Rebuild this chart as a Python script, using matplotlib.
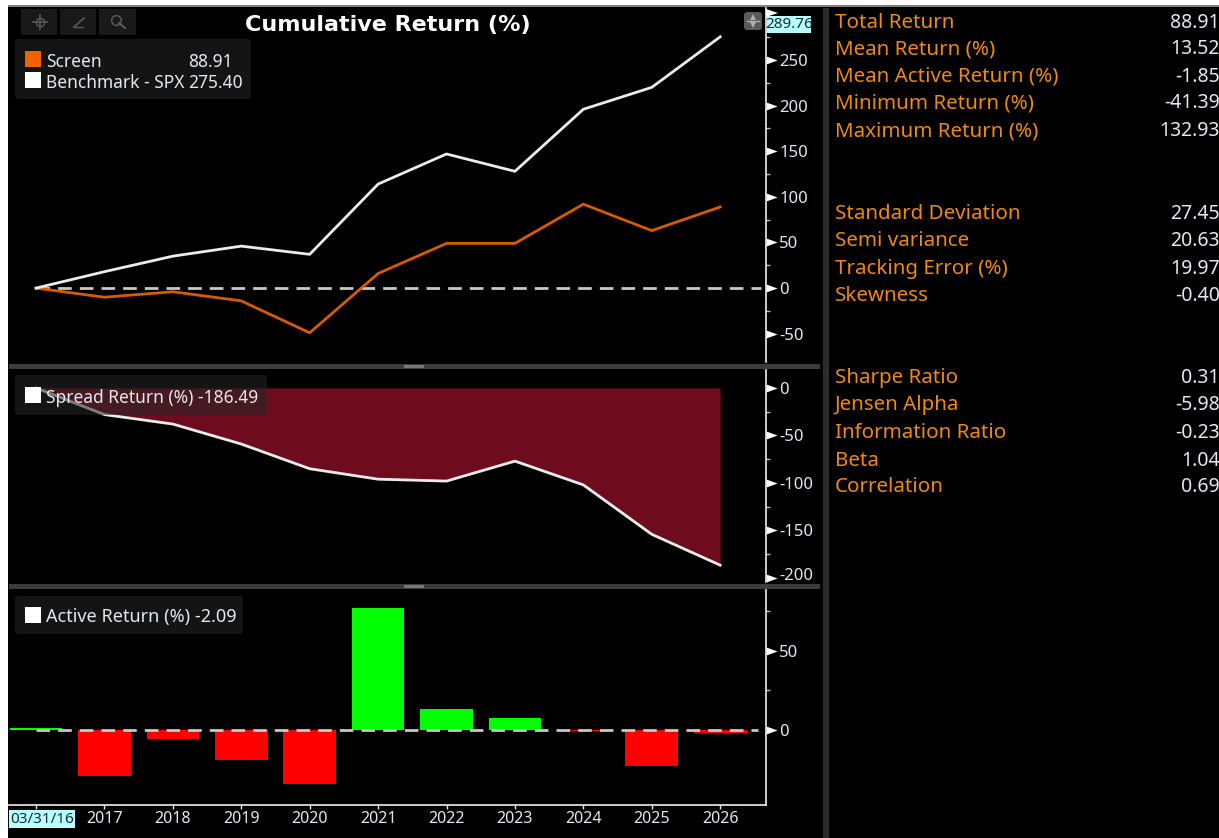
import matplotlib
matplotlib.use("Agg")
import matplotlib.pyplot as plt
from matplotlib.patches import Rectangle, FancyBboxPatch, Polygon
from matplotlib.path import Path
from matplotlib.transforms import ScaledTranslation

plt.rcParams['font.family'] = ['Noto Sans', 'DejaVu Sans']
plt.rcParams['axes.unicode_minus'] = False

# %% Data
periods = [0, 1, 2, 3, 4, 5, 6, 7, 8, 9, 10]
year_labels = ['2017', '2018', '2019', '2020', '2021', '2022', '2023', '2024', '2025', '2026']
screen = [0, -10, -4, -14, -49, 16, 49, 49, 92, 63, 88.91]
benchmark = [0, 18, 35, 46, 37, 114, 147, 128, 196, 220, 275.40]
spread = [0, -28, -38, -59, -85, -96, -98, -77, -102, -154, -186.49]
active = [1.2, -29, -6, -19, -34, 77, 13.5, 7.5, -0.5, -22.5, -2.09]

stat_names = ['Total Return', 'Mean Return (%)', 'Mean Active Return (%)', 'Minimum Return (%)', 'Maximum Return (%)',
              'Standard Deviation', 'Semi variance', 'Tracking Error (%)', 'Skewness',
              'Sharpe Ratio', 'Jensen Alpha', 'Information Ratio', 'Beta', 'Correlation']
stat_values = ['88.91', '13.52', '-1.85', '-41.39', '132.93',
               '27.45', '20.63', '19.97', '-0.40',
               '0.31', '-5.98', '-0.23', '1.04', '0.69']
stat_rows = [21, 48, 75, 102, 130, 212, 239, 267, 294, 376, 403, 431, 459, 485]

W, H = 1219, 838
ORANGE = '#ee8a12'
TEXT = '#e2e8ee'
SPINE = '#f0f0f0'
DASH = (4.9, 2.9)
ARROW = Path([(0, -0.36), (1, 0), (0, 0.36), (0, -0.36)], closed=True)

fig = plt.figure(figsize=(W / 100, H / 100), dpi=100, facecolor='black')


def panel(top, bottom, left=9, right=766):
    return fig.add_axes([left / W, 1 - bottom / H, (right - left) / W, (bottom - top) / H], facecolor='black')


def style(ax, majors, minors, ymin, ymax):
    ax.set_xlim(-0.395, 10.67)
    ax.set_ylim(ymin, ymax)
    ax.yaxis.tick_right()
    for s in ['top', 'left', 'bottom']:
        ax.spines[s].set_visible(False)
    ax.spines['right'].set_color(SPINE)
    ax.spines['right'].set_linewidth(1.2)
    ax.set_yticks(majors)
    ax.set_yticks(minors, minor=True)
    ax.set_yticklabels([str(m) for m in majors])
    ax.tick_params(axis='y', which='major', colors=TEXT, labelsize=12, length=4, width=1, pad=5.4)
    ax.tick_params(axis='y', which='minor', colors='#bbbbbb', length=3, width=1)
    for t in ax.yaxis.get_major_ticks():
        t.tick2line.set_marker(ARROW)
        t.tick2line.set_markersize(16)
        t.tick2line.set_markerfacecolor('white')
        t.tick2line.set_markeredgecolor('none')
    ax.set_xticks([])


# %% Cumulative return
ax1 = panel(8, 362)
ax1.plot([0, 10.6], [0, 0], color='#c8c8c8', lw=2, dashes=DASH, zorder=1)
ax1.plot(periods, screen, color='#d95b00', lw=2, zorder=3)
ax1.plot(periods, benchmark, color='#ececec', lw=2, zorder=3)
style(ax1, [-50, 0, 50, 100, 150, 200, 250], [-25, 25, 75, 125, 175, 225, 275], -81, 307)

# %% Spread return
ax2 = panel(370, 582)
ax2.fill_between(periods, spread, 0, color='#6e0c1e', lw=0)
ax2.plot(periods, spread, color='#ececec', lw=2)
style(ax2, [-200, -150, -100, -50, 0], [-175, -125, -75, -25], -204.2, 18.9)
# bottom label sits a bit above its tick so the divider does not cut it
low_label = ax2.yaxis.get_major_ticks()[0].label2
low_label.set_transform(low_label.get_transform() + ScaledTranslation(0, 4 / 100, fig.dpi_scale_trans))

# %% Active return
ax3 = panel(590, 805)
colors = ['#00ff00' if v > 0 else '#ff0000' for v in active]
ax3.bar(periods, active, width=0.77, color=colors, lw=0, zorder=2)
ax3.plot([0, 10.55], [0, 0], color='#c8c8c8', lw=2, dashes=DASH, zorder=3)
style(ax3, [0, 50], [25, 75], -47.5, 88.6)
ax3.spines['bottom'].set_visible(True)
ax3.spines['bottom'].set_color(SPINE)
ax3.spines['bottom'].set_linewidth(1.2)
ax3.set_xticks(periods[1:])
ax3.set_xticklabels(year_labels)
ax3.tick_params(axis='x', colors=TEXT, labelsize=11.5, length=3, width=1, pad=1)
ax3.set_xticks(periods[:1], minor=True)
ax3.tick_params(axis='x', which='minor', colors='#d8d8d8', length=3, width=1)

# %% Overlay in pixels: frame, legends, stats
ov = fig.add_axes([0, 0, 1, 1], facecolor='none')
ov.set_xlim(0, W)
ov.set_ylim(H, 0)
ov.axis('off')


def rect(x0, y0, x1, y1, color, **kw):
    ov.add_patch(Rectangle((x0, y0), x1 - x0, y1 - y0, facecolor=color, lw=0, **kw))


def box(x0, y0, x1, y1, color, alpha=1.0, r=3):
    ov.add_patch(FancyBboxPatch((x0 + r, y0 + r), x1 - x0 - 2 * r, y1 - y0 - 2 * r, boxstyle='round,pad=%d' % r,
                                facecolor=color, alpha=alpha, lw=0))


# white screenshot edges
rect(0, 0, W, 5, 'white')
rect(0, 5, W, 7, '#808080')
rect(0, 0, 8, H, 'white')

# panel dividers
rect(9, 364, 820, 369, '#3c3c3c')
rect(9, 584, 820, 589, '#3c3c3c')
rect(404, 365, 424, 368, '#777777')
rect(404, 585, 424, 588, '#777777')
rect(823, 8, 829, H, '#2c2c2c')

# toolbar
for x0, x1 in [(21, 57), (60, 96), (99, 136)]:
    rect(x0, 9, x1, 35, '#191919')
ov.plot([40], [22], marker='+', ms=11, color='#5a5a5a', mew=1.1)
ov.plot([40], [22], marker='o', ms=6, mfc='none', mec='#5a5a5a', mew=1)
ov.plot([74, 84], [27, 18], color='#5a5a5a', lw=1.2)
ov.plot([74, 83], [27, 27], color='#5a5a5a', lw=1)
ov.plot([116], [20], marker='o', ms=7, mfc='none', mec='#5a5a5a', mew=1.1)
ov.plot([119, 125], [23, 28], color='#5a5a5a', lw=1.5)

ov.text(388, 25, 'Cumulative Return (%)', color='white', fontsize=16, fontweight='bold',
        family='DejaVu Sans', ha='center', va='center')

# legend top
box(15, 39, 251, 99, '#141414')
rect(25, 51, 41, 67, '#f06400')
rect(25, 72, 41, 88, 'white')
ov.text(46, 62, 'Screen', color=TEXT, fontsize=12.5, va='center')
ov.text(46, 83, 'Benchmark - SPX', color=TEXT, fontsize=12.5, va='center')
ov.text(233, 62, '88.91', color=TEXT, fontsize=12.5, va='center', ha='right')
ov.text(243, 83, '275.40', color=TEXT, fontsize=12.5, va='center', ha='right')

# legend spread
box(15, 375, 267, 415, '#262626', alpha=0.55)
rect(25, 387, 41, 403, 'white')
ov.text(46, 398, 'Spread Return (%) -186.49', color=TEXT, fontsize=12.5, va='center')

# legend active
box(15, 596, 243, 634, '#141414')
rect(25, 607, 41, 623, 'white')
ov.text(46, 617, 'Active Return (%) -2.09', color=TEXT, fontsize=13, va='center')

# last value flag and start date flag
ov.add_patch(Polygon([[766, 9], [766, 17], [778, 13]], facecolor='white', lw=0))
rect(767, 16, 811, 33, '#b8ffff')
ov.text(789, 25, '289.76', color='#1a2a3a', fontsize=11, ha='center', va='center')
rect(9, 810, 75, 828, '#b8ffff')
ov.text(42, 819, '03/31/16', color='#1a2a3a', fontsize=11, ha='center', va='center')

# scroll button
box(744, 12, 762, 30, '#5a5a5a')
ov.plot([747, 759], [21, 21], color='#b0b0b0', lw=1)
ov.plot([753], [17], marker='^', ms=5, color='#b0b0b0', mew=0)
ov.plot([753], [25], marker='v', ms=5, color='#b0b0b0', mew=0)

# stats
for name, value, y in zip(stat_names, stat_values, stat_rows):
    ov.text(835, y + 1.5, name, color=ORANGE, fontsize=14.8, va='center')
    ov.text(1220, y + 1.5, value, color=TEXT, fontsize=14, va='center', ha='right')

fig.savefig('out.png', dpi=100, facecolor='black')
